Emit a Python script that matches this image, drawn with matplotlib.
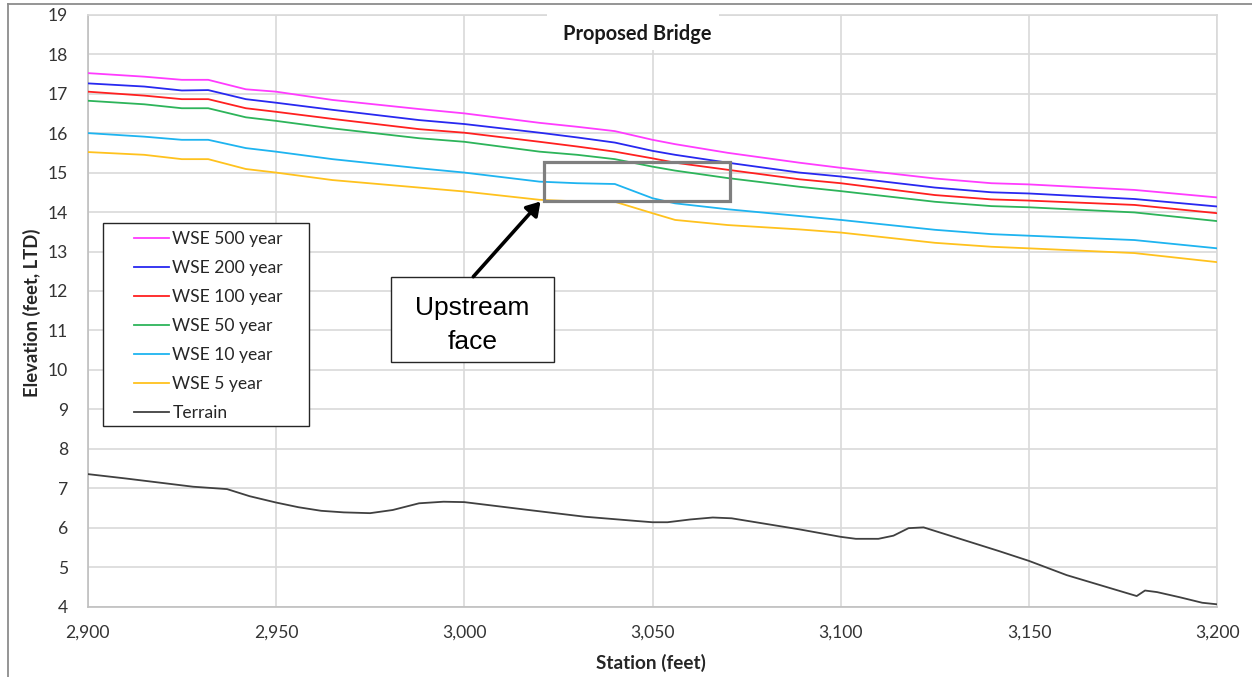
import matplotlib
matplotlib.use("Agg")
import matplotlib.pyplot as plt
from matplotlib.patches import Rectangle, FancyArrowPatch
from matplotlib.lines import Line2D
from matplotlib.ticker import FuncFormatter, MultipleLocator

# Water surface elevation profiles along the channel (feet)
wse_station = [2900, 2915, 2925, 2932, 2942, 2950, 2965, 2988, 3000, 3020,
               3030, 3040, 3050, 3056, 3070, 3089, 3100, 3125, 3140, 3150,
               3178, 3200]
wse_500 = [17.52, 17.43, 17.35, 17.35, 17.11, 17.05, 16.84, 16.61, 16.50, 16.26,
           16.16, 16.05, 15.83, 15.72, 15.50, 15.25, 15.12, 14.85, 14.73, 14.70,
           14.56, 14.37]
wse_200 = [17.26, 17.18, 17.08, 17.09, 16.86, 16.77, 16.59, 16.33, 16.23, 16.01,
           15.89, 15.76, 15.55, 15.45, 15.25, 15.00, 14.90, 14.62, 14.50, 14.47,
           14.33, 14.14]
wse_100 = [17.05, 16.95, 16.86, 16.86, 16.63, 16.54, 16.36, 16.10, 16.01, 15.78,
           15.66, 15.53, 15.36, 15.25, 15.07, 14.83, 14.73, 14.43, 14.32, 14.29,
           14.18, 13.97]
wse_50 = [16.82, 16.73, 16.63, 16.63, 16.40, 16.31, 16.12, 15.87, 15.78, 15.53,
          15.45, 15.34, 15.15, 15.05, 14.86, 14.64, 14.53, 14.26, 14.15, 14.12,
          13.99, 13.77]
wse_10 = [16.00, 15.91, 15.83, 15.83, 15.62, 15.53, 15.34, 15.11, 15.00, 14.77,
          14.73, 14.71, 14.35, 14.22, 14.07, 13.90, 13.80, 13.55, 13.44, 13.40,
          13.29, 13.08]
wse_5 = [15.52, 15.45, 15.34, 15.34, 15.09, 15.00, 14.81, 14.62, 14.52, 14.31,
         14.27, 14.26, 13.97, 13.80, 13.67, 13.56, 13.48, 13.22, 13.12, 13.08,
         12.96, 12.73]

# Ground profile
terrain_station = [2900, 2910, 2928, 2934, 2937, 2943, 2950, 2956, 2962, 2968, 2975,
                   2981, 2988, 2994.5, 3000, 3018, 3032, 3046, 3050, 3054, 3060,
                   3066, 3071, 3089, 3100, 3104, 3110, 3114, 3118, 3122, 3134,
                   3142, 3150, 3160, 3178.6, 3180.8, 3184, 3190, 3196, 3200]
terrain_elev = [7.36, 7.25, 7.04, 7.00, 6.98, 6.80, 6.64, 6.52, 6.43, 6.39, 6.37,
                6.45, 6.62, 6.66, 6.65, 6.44, 6.28, 6.17, 6.14, 6.14, 6.21,
                6.26, 6.24, 5.96, 5.77, 5.72, 5.72, 5.80, 5.99, 6.01, 5.65,
                5.41, 5.16, 4.80, 4.27, 4.41, 4.37, 4.24, 4.10, 4.06]

series_names = ["WSE 500 year", "WSE 200 year", "WSE 100 year", "WSE 50 year",
                "WSE 10 year", "WSE 5 year"]
series_values = [wse_500, wse_200, wse_100, wse_50, wse_10, wse_5]
series_colors = ["#ff3cff", "#2828f0", "#ff2020", "#2db45a", "#1eb4f0", "#ffc21e"]

# Bridge upstream face region (station, elevation)
face_station = [3021.3, 3070.6]
face_elev = [14.28, 15.28]

W, H = 1252, 677
fig = plt.figure(figsize=(W / 100, H / 100), dpi=100)
ax = fig.add_axes([87.7 / W, 1 - 606.7 / H, (1217.3 - 87.7) / W, (606.7 - 14.7) / H])

lw = 1.3
for name, vals, col in zip(series_names, series_values, series_colors):
    ax.plot(wse_station, vals, color=col, lw=lw, label=name, zorder=3)
ax.plot(terrain_station, terrain_elev, color="#404040", lw=lw, label="Terrain", zorder=3)

ax.set_xlim(2900, 3200)
ax.set_ylim(4, 19)
ax.xaxis.set_major_locator(MultipleLocator(50))
ax.yaxis.set_major_locator(MultipleLocator(1))
ax.xaxis.set_major_formatter(FuncFormatter(lambda v, p: f"{int(v):,}"))
ax.grid(True, color="#d9d9d9", lw=1.2, zorder=0)
ax.set_axisbelow(True)
for side, sp in ax.spines.items():
    sp.set_color("#d9d9d9")
    sp.set_linewidth(1.2)
ax.spines["left"].set_color("#bfbfbf")
ax.spines["bottom"].set_color("#bfbfbf")

ax.tick_params(axis="x", length=0, pad=13, labelcolor="#333333")
ax.tick_params(axis="y", length=0, pad=14, labelcolor="#333333")
for lab in ax.get_xticklabels() + ax.get_yticklabels():
    lab.set_fontfamily("Lato")
    lab.set_fontsize(12.6)

fig.text(651 / W, 1 - 663 / H, "Station (feet)", ha="center", va="center",
         family="Lato", weight="bold", size=13.6, color="#262626")
fig.text(32 / W, 1 - 313 / H, "Elevation (feet, LTD)", ha="center", va="center",
         rotation=90, family="Lato", weight="bold", size=13.3, color="#262626")

# Title with white backing over the top gridline
fig.patches.append(Rectangle((547 / W, 1 - 50 / H), 172 / W, 42 / H,
                             transform=fig.transFigure, facecolor="white",
                             edgecolor="none", zorder=5))
fig.text(637 / W, 1 - 34 / H, "Proposed Bridge", ha="center", va="center",
         family="Lato", weight="bold", size=14.4, color="#1a1a1a", zorder=6)

# Outer chart border
fig.add_artist(Line2D([7.5 / W, 7.5 / W], [0, 1 - 4 / H], color="#8c8c8c", lw=1.3,
                      transform=fig.transFigure))
fig.add_artist(Line2D([7.5 / W, 1], [1 - 4 / H, 1 - 4 / H], color="#8c8c8c", lw=1.3,
                      transform=fig.transFigure))

# Legend frame, then legend entries inside it
ax.add_patch(Rectangle((103.3 / W, 1 - 426 / H), (309.3 - 103.3) / W, (426 - 223.3) / H,
                       transform=fig.transFigure, facecolor="white",
                       edgecolor="#262626", lw=1.0, zorder=5, clip_on=False))
leg = ax.legend(loc="upper left", bbox_to_anchor=(134 / W, 1 - 231 / H),
                bbox_transform=fig.transFigure, prop=dict(family="Lato", size=12.6),
                frameon=False, handlelength=2.0, handletextpad=0.2,
                labelspacing=0.745, borderpad=0, borderaxespad=0)
for t in leg.get_texts():
    t.set_color("#262626")
leg.set_zorder(7)

# Highlight box for the upstream face of the bridge
ax.add_patch(Rectangle((face_station[0], face_elev[0]),
                       face_station[1] - face_station[0], face_elev[1] - face_elev[0],
                       facecolor="none", edgecolor="#7f7f7f", lw=2.3, zorder=4))

# Callout box and arrow
fig.patches.append(Rectangle((391 / W, 1 - 362.3 / H), (554 - 391) / W, (362.3 - 276.7) / H,
                             transform=fig.transFigure, facecolor="white",
                             edgecolor="#262626", lw=1.0, zorder=5))
fig.text(472.5 / W, 1 - 308 / H, "Upstream", ha="center", va="center",
         family="Liberation Sans", size=19, color="black", zorder=6)
fig.text(472.5 / W, 1 - 342 / H, "face", ha="center", va="center",
         family="Liberation Sans", size=19, color="black", zorder=6)
arrow = FancyArrowPatch((473.3 / W, 1 - 276.7 / H), (540.5 / W, 1 - 201.5 / H),
                        transform=fig.transFigure, arrowstyle="-|>,head_length=8,head_width=5",
                        color="black", lw=2.6, shrinkA=0, shrinkB=0, zorder=6)
fig.patches.append(arrow)

fig.savefig("out.png", dpi=100)
